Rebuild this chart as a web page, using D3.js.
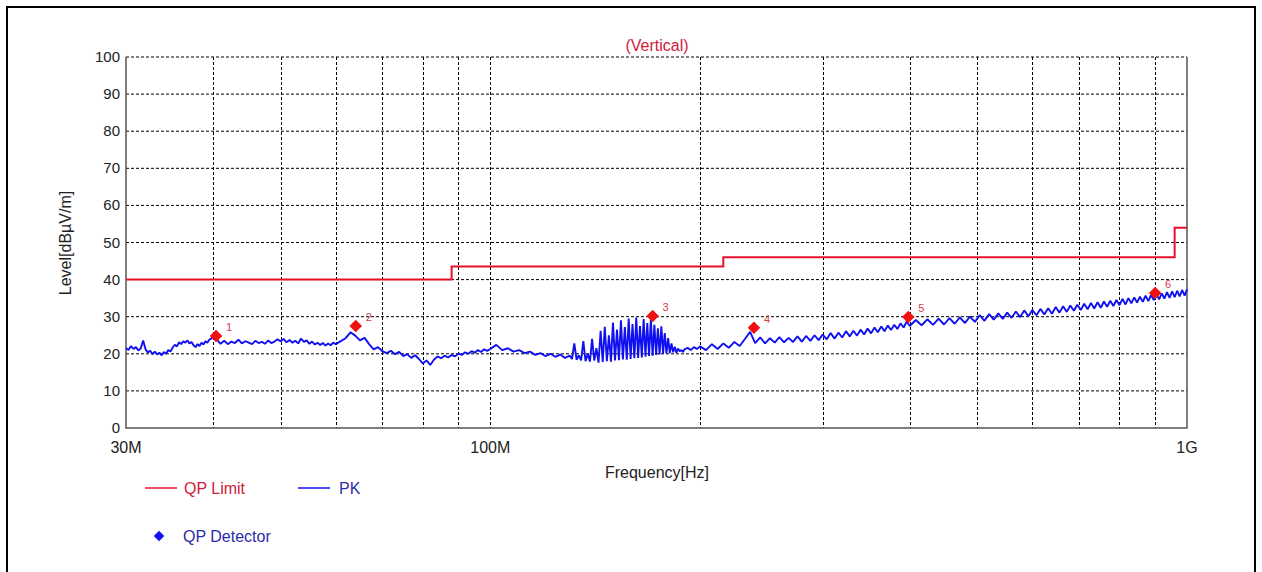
<!DOCTYPE html>
<html>
<head>
<meta charset="utf-8">
<script src="https://cdn.jsdelivr.net/npm/d3@7"></script>
<style>
  html, body { margin: 0; padding: 0; background: #fff; }
  svg { display: block; font-family: "Liberation Sans", Arial, sans-serif; }
</style>
</head>
<body>
<div id="chart"></div>
<script>
// ---- data (MHz / dBµV/m) ----
const yTicks = [0, 10, 20, 30, 40, 50, 60, 70, 80, 90, 100];
const xLabelTicks = [30, 100, 1000];
const xLabelText = ["30M", "100M", "1G"];
const xGridTicks = [40, 50, 60, 70, 80, 90, 100, 200, 300, 400, 500, 600, 700, 800, 900];

const limitFreq = [30, 88, 216, 960, 1000];
const limitLevel = [40, 43.5, 46, 54, 54];

const qpFreq = [40.4, 64.1, 171, 239, 398, 900];
const qpLevel = [24.8, 27.5, 30.2, 27.0, 29.9, 36.4];
const qpLabel = ["1", "2", "3", "4", "5", "6"];

const pkFreq = [
  30, 30.25, 30.5, 30.75, 31, 31.25, 31.5, 31.75, 32, 32.25, 32.5, 32.75, 33, 33.25, 33.5, 33.75,
  34, 34.25, 34.5, 34.75, 35, 35.25, 35.5, 35.75, 36, 36.25, 36.5, 36.75, 37, 37.25, 37.5, 37.75,
  38, 38.25, 38.5, 38.75, 39, 39.25, 39.5, 39.75, 40,
  40.5, 41, 41.5, 42, 42.5, 43, 43.5, 44, 44.5, 45, 45.5, 46, 46.5, 47, 47.5, 48, 48.5, 49, 49.5, 50,
  50.5, 51, 51.5, 52, 52.5, 53, 53.5, 54, 54.5, 55, 55.5, 56, 56.5, 57, 57.5, 58, 58.5, 59, 59.5, 60,
  61, 62, 63, 64, 65, 66, 67, 68, 69, 70, 71, 72, 73, 74, 75, 76, 77, 78, 79, 80,
  81, 82, 83, 84, 85, 86, 87, 88, 89, 90, 91, 92, 93, 94, 95, 96, 97, 98, 99, 100,
  102, 104, 106, 108, 110, 112, 114, 116, 118, 120, 122, 124, 126, 128, 130,
  131, 132, 133, 134, 135, 136, 137, 138, 139, 140, 141, 142, 143, 144, 145, 146, 147, 148, 149, 150,
  151, 152, 153, 154, 155, 156, 157, 158, 159, 160, 161, 162, 163, 164, 165, 166, 167, 168, 169, 170,
  171, 172, 173, 174, 175, 176, 177, 178, 179, 180, 181, 182, 183, 184, 185, 186, 187, 188, 189, 190,
  192, 194, 196, 198, 200,
  204, 208, 212, 216, 220, 224, 228, 232, 236, 240, 244, 248, 252, 256, 260, 264, 268, 272, 276, 280,
  284, 288, 292, 296, 300, 304, 308, 312, 316, 320, 324, 328, 332, 336, 340, 344, 348, 352, 356, 360,
  364, 368, 372, 376, 380, 384, 388, 392, 396, 400,
  408, 416, 424, 432, 440, 448, 456, 464, 472, 480, 488, 496, 504, 512, 520, 528, 536, 544, 552, 560,
  568, 576, 584, 592, 600, 608, 616, 624, 632, 640, 648, 656, 664, 672, 680, 688, 696, 704, 712, 720,
  728, 736, 744, 752, 760, 768, 776, 784, 792, 800, 808, 816, 824, 832, 840, 848, 856, 864, 872, 880,
  888, 896, 904, 912, 920, 928, 936, 944, 952, 960, 968, 976, 984, 992, 1000
];
const pkLevel = [
  21.6, 21.0, 22.1, 21.3, 21.8, 20.9, 21.5, 23.6, 21.2, 20.4, 20.8, 19.9, 20.6, 19.8, 20.3, 19.6,
  20.5, 20.0, 21.0, 20.6, 21.7, 22.4, 22.0, 23.1, 22.6, 23.4, 23.0, 23.6, 22.8, 23.2, 22.3, 21.8,
  22.6, 22.1, 23.0, 22.5, 23.4, 23.0, 23.8, 24.1, 24.4,
  23.9, 22.7, 23.5, 22.6, 23.3, 22.9, 23.8, 22.8, 23.4, 23.0, 22.6, 23.5, 22.9, 23.2, 22.7, 23.6, 22.9, 23.3, 23.9, 23.4,
  24.0, 23.1, 23.7, 23.0, 23.5, 22.8, 24.1, 23.2, 23.6, 22.7, 23.3, 22.5, 23.0, 22.4, 22.9, 22.2, 22.8, 22.3, 23.0, 22.6,
  23.4, 24.2, 25.8, 24.9, 23.6, 24.3, 22.6, 21.2, 21.8, 20.7, 20.2, 20.8, 19.9, 20.5, 19.4, 19.9, 18.9, 19.6, 18.6, 17.4,
  18.2, 17.0, 18.4, 19.3, 18.8, 19.5, 19.0, 19.7, 19.3, 20.1, 19.7, 20.4, 20.0, 20.7, 20.3, 21.0, 20.5, 21.2, 20.8, 21.3,
  22.4, 21.0, 21.5, 20.6, 21.0, 20.2, 20.6, 19.7, 20.2, 19.4, 20.0, 19.2, 19.8, 18.9, 19.5,
  18.6, 22.8, 18.4, 19.6, 18.2, 23.4, 18.0, 20.0, 17.9, 24.0, 18.2, 21.5, 17.6, 26.2, 17.8, 27.3, 18.0, 25.0, 17.9, 28.4,
  18.2, 26.5, 18.3, 29.0, 18.5, 27.2, 18.4, 29.5, 18.6, 28.0, 18.8, 29.8, 18.9, 27.5, 19.0, 29.4, 19.2, 28.3, 19.4, 29.2,
  19.5, 27.8, 19.7, 26.9, 19.8, 27.4, 20.0, 25.6, 20.1, 24.2, 20.2, 22.8, 20.4, 21.9, 20.3, 21.4, 20.7, 21.0, 20.5, 21.2,
  21.6, 21.0, 21.8, 21.3, 22.0,
  21.0, 22.6, 21.3, 22.8, 21.6, 23.2, 22.1, 24.0, 25.9, 22.9, 24.4, 22.8, 24.2, 23.0, 24.5, 23.1, 24.3, 23.2, 24.7, 23.3,
  24.8, 23.5, 25.0, 23.7, 25.2, 23.9, 25.6, 24.1, 25.7, 24.4, 26.1, 24.7, 26.2, 24.9, 26.5, 25.2, 26.8, 25.5, 27.1, 25.8,
  27.4, 26.1, 27.6, 26.4, 27.8, 26.7, 28.2, 27.1, 28.7, 27.5,
  29.1, 27.7, 29.3, 27.8, 29.5, 27.9, 29.6, 28.1, 29.8, 28.3, 30.0, 28.6, 30.4, 28.9, 30.7, 29.2, 30.9, 29.4, 31.1, 29.7,
  31.4, 29.9, 31.7, 30.1, 31.8, 30.4, 32.1, 30.6, 32.3, 30.8, 32.6, 31.1, 32.8, 31.3, 33.0, 31.6, 33.2, 31.8, 33.5, 32.0,
  33.7, 32.2, 33.9, 32.4, 34.1, 32.7, 34.3, 32.9, 34.5, 33.1, 34.8, 33.3, 35.0, 33.6, 35.2, 33.8, 35.4, 34.0, 35.7, 34.2,
  35.9, 34.5, 36.1, 34.7, 36.3, 34.9, 36.6, 35.1, 36.8, 35.3, 37.0, 35.5, 37.2, 35.7, 37.4
];

// ---- layout ----
const W = 1262, H = 572;
const plot = { left: 126, right: 1187, top: 57, bottom: 428 };
const red = "#e8102a", blue = "#1010f0", labelBlue = "#2c2ca8";

const svg = d3.select("#chart").append("svg").attr("width", W).attr("height", H);

svg.append("rect")
  .attr("x", 7).attr("y", 7).attr("width", 1248).attr("height", 580)
  .attr("fill", "none").attr("stroke", "#000").attr("stroke-width", 2);

const x = d3.scaleLog().domain([30, 1000]).range([plot.left, plot.right]);
const y = d3.scaleLinear().domain([0, 100]).range([plot.bottom, plot.top]);

// grid
svg.append("g").selectAll("line").data(yTicks.filter(d => d > 0)).join("line")
  .attr("x1", plot.left).attr("x2", plot.right)
  .attr("y1", d => y(d)).attr("y2", d => y(d))
  .attr("stroke", "#000").attr("stroke-width", 1).attr("stroke-dasharray", "3,2");

svg.append("g").selectAll("line").data(xGridTicks).join("line")
  .attr("x1", d => Math.round(x(d)) + 0.5).attr("x2", d => Math.round(x(d)) + 0.5)
  .attr("y1", plot.top).attr("y2", plot.bottom)
  .attr("stroke", "#000").attr("stroke-width", 1).attr("stroke-dasharray", "3,2");

// axis frame (left, bottom, right)
svg.append("path")
  .attr("d", `M${plot.left},${plot.top}V${plot.bottom}H${plot.right}V${plot.top}`)
  .attr("fill", "none").attr("stroke", "#555").attr("stroke-width", 1.5);

// y tick labels
svg.append("g").selectAll("text").data(yTicks).join("text")
  .attr("x", 120).attr("y", d => y(d) + 5)
  .attr("text-anchor", "end").attr("font-size", 15).attr("fill", "#222")
  .text(d => d);

// x tick labels
svg.append("g").selectAll("text").data(xLabelTicks).join("text")
  .attr("x", d => x(d)).attr("y", 453)
  .attr("text-anchor", "middle").attr("font-size", 16).attr("fill", "#222")
  .text((d, i) => xLabelText[i]);

// titles
svg.append("text").attr("x", 657).attr("y", 478).attr("text-anchor", "middle")
  .attr("font-size", 16).attr("fill", "#222").text("Frequency[Hz]");
svg.append("text").attr("transform", "translate(71,243) rotate(-90)").attr("text-anchor", "middle")
  .attr("font-size", 16).attr("fill", "#222").text("Level[dBµV/m]");
svg.append("text").attr("x", 657).attr("y", 51).attr("text-anchor", "middle")
  .attr("font-size", 16).attr("fill", "#d0203a").text("(Vertical)");

// PK trace
const pkData = pkFreq.map((f, i) => [f, pkLevel[i]]);
svg.append("path").datum(pkData)
  .attr("fill", "none").attr("stroke", blue).attr("stroke-width", 1.9)
  .attr("stroke-linejoin", "bevel")
  .attr("d", d3.line().x(d => x(d[0])).y(d => y(d[1])));

// QP limit
const limData = limitFreq.map((f, i) => [f, limitLevel[i]]);
svg.append("path").datum(limData)
  .attr("fill", "none").attr("stroke", red).attr("stroke-width", 2)
  .attr("d", d3.line().curve(d3.curveStepAfter).x(d => x(d[0])).y(d => y(d[1])));

// QP detector markers
const diamond = d3.symbol().type(d3.symbolDiamond2).size(100);
const qp = svg.append("g").selectAll("g").data(qpFreq).join("g")
  .attr("transform", (d, i) => `translate(${x(d)},${y(qpLevel[i])})`);
qp.append("path").attr("d", diamond).attr("fill", "#f01010");
qp.append("text").attr("x", 10).attr("y", -5).attr("font-size", 11).attr("fill", "#d04050")
  .text((d, i) => qpLabel[i]);

// legend
const lg = svg.append("g").attr("font-size", 16);
lg.append("line").attr("x1", 145).attr("x2", 177).attr("y1", 488).attr("y2", 488).attr("stroke", red).attr("stroke-width", 1.5);
lg.append("text").attr("x", 184).attr("y", 494).attr("fill", "#d0203a").text("QP Limit");
lg.append("line").attr("x1", 298).attr("x2", 330).attr("y1", 488).attr("y2", 488).attr("stroke", blue).attr("stroke-width", 1.5);
lg.append("text").attr("x", 339).attr("y", 494).attr("fill", labelBlue).text("PK");
lg.append("path").attr("transform", "translate(159,536)").attr("d", d3.symbol().type(d3.symbolDiamond2).size(70)).attr("fill", blue);
lg.append("text").attr("x", 183).attr("y", 542).attr("fill", labelBlue).text("QP Detector");
</script>
</body>
</html>
